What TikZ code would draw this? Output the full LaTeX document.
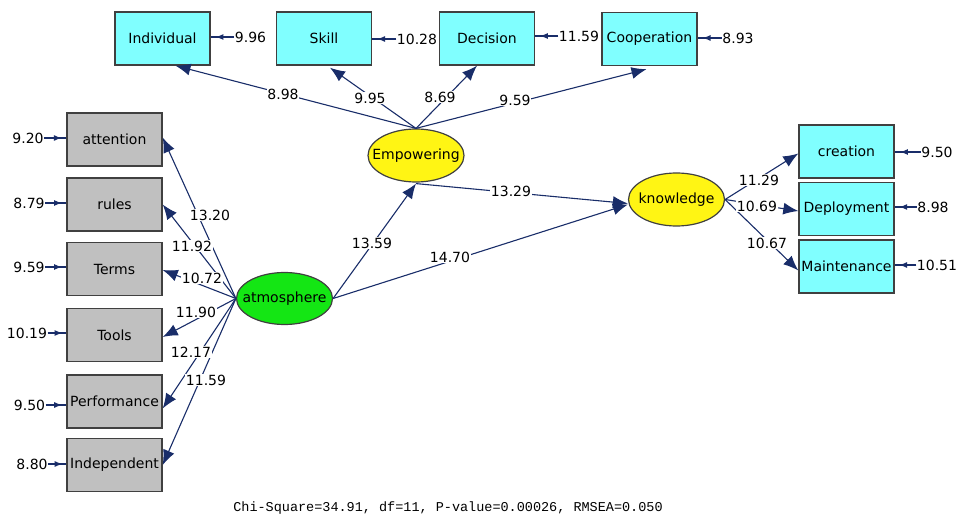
\documentclass[tikz,border=0pt]{standalone}
\usepackage{fontspec}
\setmainfont{DejaVu Sans}
\newfontfamily\monof{Liberation Mono}
\usetikzlibrary{shapes.geometric,arrows.meta,decorations.markings,calc}
\definecolor{navy}{RGB}{25,45,105}
\definecolor{cyanbox}{RGB}{128,255,255}
\definecolor{graybox}{RGB}{192,192,192}
\definecolor{greenell}{RGB}{20,230,20}
\definecolor{yellowell}{RGB}{255,245,20}
\definecolor{bordc}{RGB}{64,64,64}
\begin{document}
\begin{tikzpicture}[x=1pt,y=-1pt,
  font=\fontsize{14}{16}\selectfont,
  obsbox/.style={draw=bordc,line width=1.4pt,minimum width=95pt,minimum height=53pt,inner sep=0pt},
  cybox/.style={obsbox,fill=cyanbox},
  grbox/.style={obsbox,fill=graybox},
  latent/.style={ellipse,draw=bordc,line width=1.2pt,minimum width=96pt,minimum height=52pt,inner xsep=-14pt,inner ysep=-8pt},
  arr/.style={draw=navy,line width=1.1pt,-{Latex[length=15pt,width=12pt]}},
  errline/.style={draw=navy,line width=1.4pt,postaction={decorate},
    decoration={markings,mark=at position 0.8 with {\arrow{Latex[length=8pt,width=6pt]}}}},
  val/.style={inner sep=0.5pt,fill=white},
  errval/.style={inner sep=0.5pt}]
\useasboundingbox (0,0) rectangle (960,518);
% top boxes
\node[cybox] (indiv) at (162.5,38.5) {Individual};
\node[cybox] (skill) at (324,38.5) {Skill};
\node[cybox] (decis) at (487,38.5) {Decision};
\node[cybox] (coop) at (649.5,39) {Cooperation};
% left boxes
\node[grbox] (att) at (114.5,139.5) {attention};
\node[grbox] (rul) at (114.5,204.5) {rules};
\node[grbox] (ter) at (114.5,269) {Terms};
\node[grbox] (too) at (114.5,335) {Tools};
\node[grbox] (perf) at (114.5,401.5) {Performance};
\node[grbox] (inde) at (114.5,465) {Independent};
% right boxes
\node[cybox] (crea) at (846.5,151.5) {creation};
\node[cybox] (depl) at (846.5,209) {Deployment};
\node[cybox] (main) at (846.5,266.5) {Maintenance};
% latent
\node[latent,fill=yellowell,minimum height=53pt] (emp) at (416,155.5) {Empowering};
\node[latent,fill=greenell] (atm) at (284.5,298.5) {atmosphere};
\node[latent,fill=yellowell,minimum height=53pt] (know) at (676.5,199.5) {knowledge};
% error labels
\node[errval] (e1) at (250.5,37) {9.96};
\node[errval] (e2) at (417,39) {10.28};
\node[errval] (e3) at (579,36) {11.59};
\node[errval] (e4) at (738,38) {8.93};
\node[errval] (e5) at (28,138) {9.20};
\node[errval] (e6) at (29,203) {8.79};
\node[errval] (e7) at (29,267) {9.59};
\node[errval] (e8) at (27,333) {10.19};
\node[errval] (e9) at (29.5,405) {9.50};
\node[errval] (e10) at (32,464) {8.80};
\node[errval] (e11) at (937,152) {9.50};
\node[errval] (e12) at (933,207) {8.98};
\node[errval] (e13) at (937,265) {10.51};
\draw[errline] (e1.west) -- (e1.west -| indiv.east);
\draw[errline] (e2.west) -- (e2.west -| skill.east);
\draw[errline] (e3.west) -- (e3.west -| decis.east);
\draw[errline] (e4.west) -- (e4.west -| coop.east);
\draw[errline] (e5.east) -- (e5.east -| att.west);
\draw[errline] (e6.east) -- (e6.east -| rul.west);
\draw[errline] (e7.east) -- (e7.east -| ter.west);
\draw[errline] (e8.east) -- (e8.east -| too.west);
\draw[errline] (e9.east) -- (e9.east -| perf.west);
\draw[errline] (e10.east) -- (e10.east -| inde.west);
\draw[errline] (e11.west) -- (e11.west -| crea.east);
\draw[errline] (e12.west) -- (e12.west -| depl.east);
\draw[errline] (e13.west) -- (e13.west -| main.east);
% structural arrows
\draw[arr] (emp.north) -- ([xshift=13pt]indiv.south);
\draw[arr] (emp.north) -- ([xshift=6pt,yshift=-2pt]skill.south);
\draw[arr] (emp.north) -- ([xshift=-10pt]decis.south);
\draw[arr] (emp.north) -- ([xshift=-3pt,yshift=-3pt]coop.south);
\draw[arr] (atm.west) -- ([yshift=2pt]att.east);
\draw[arr] (atm.west) -- (rul.east);
\draw[arr] (atm.west) -- ([yshift=-1pt]ter.east);
\draw[arr] (atm.west) -- ([yshift=-2pt]too.east);
\draw[arr] (atm.west) -- ([yshift=-7pt]perf.east);
\draw[arr] (atm.west) -- (inde.east);
\draw[arr] (atm.east) -- ([yshift=-1pt]emp.south);
\draw[arr] ([yshift=-1pt]emp.south) -- ([yshift=-4pt]know.west);
\draw[arr] (atm.east) -- ([yshift=-5pt]know.west);
\draw[arr] (know.east) -- ([yshift=-2pt]crea.west);
\draw[arr] (know.east) -- ([yshift=-2pt]depl.west);
\draw[arr] (know.east) -- ([yshift=-4pt]main.west);
% path labels
\node[val] (l1) at (283,94) {8.98};
\node[val] (l2) at (370,98) {9.95};
\node[val] (l3) at (440,97) {8.69};
\node[val] (l4) at (515,100) {9.59};
\node[val] (l5) at (210,215) {13.20};
\node[val] (l6) at (192,246) {11.92};
\node[val] (l7) at (202,278) {10.72};
\node[val] (l8) at (196,312) {11.90};
\node[val] (l9) at (191,352) {12.17};
\node[val] (l10) at (206,380) {11.59};
\node[val] (l11) at (372,243) {13.59};
\node[val] (l12) at (450,257) {14.70};
\node[val] (l13) at (511,191) {13.29};
\node[val] (l14) at (759,180) {11.29};
\node[val] (l15) at (757,206) {10.69};
\node[val] (l16) at (767,243) {10.67};
% fit statistics
\node[font=\monof\fontsize{13.5}{15}\selectfont] (fit) at (448,508) {Chi-Square=34.91, df=11, P-value=0.00026, RMSEA=0.050};
\end{tikzpicture}
\end{document}
